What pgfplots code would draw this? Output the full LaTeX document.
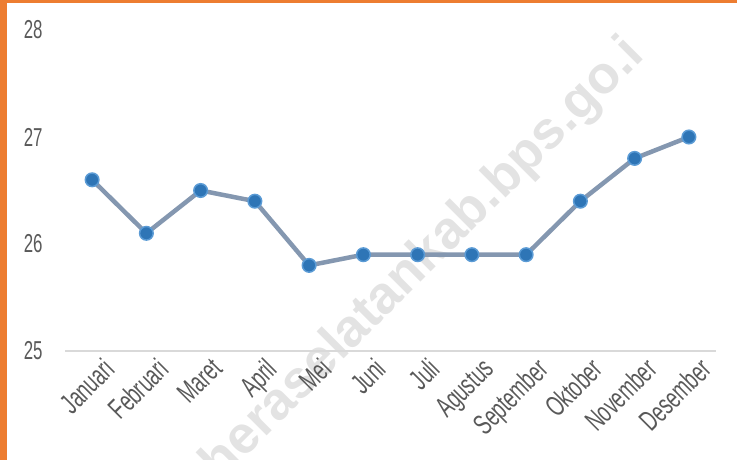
\documentclass[border=0pt]{standalone}
\usepackage{pgfplots}
\pgfplotsset{compat=1.18}
\usepackage{fontspec}
\setmainfont{Liberation Sans}[FakeStretch=0.65]
\newfontfamily\wmfont{Liberation Sans}[FakeStretch=1.0]
\definecolor{borderor}{HTML}{ED7D31}
\definecolor{linec}{HTML}{8497B0}
\definecolor{markf}{HTML}{2E75B6}
\definecolor{markd}{HTML}{5B9BD5}
\definecolor{txt}{HTML}{595959}
\definecolor{wm}{HTML}{E3E3E3}
\definecolor{gridc}{HTML}{D9D9D9}
\begin{document}
\begin{tikzpicture}[x=1bp,y=1bp]
\useasboundingbox (0,0) rectangle (737,460);
\node[rotate=45, text=wm, font=\wmfont\bfseries\fontsize{53}{60}\selectfont, inner sep=0] at (424,200) {heraselatankab.bps.go.i};
\begin{axis}[
  at={(65bp,109bp)}, anchor=south west,
  scale only axis, width=651bp, height=321bp,
  xmin=-0.5, xmax=11.5, ymin=25, ymax=28,
  ytick={25,26,27,28},
  xtick={0,...,11},
  xticklabels={Januari,Februari,Maret,April,Mei,Juni,Juli,Agustus,September,Oktober,November,Desember},
  axis lines*=left,
  y axis line style={draw=none},
  x axis line style={draw=gridc, line width=1.5bp},
  major tick length=0pt,
  /pgf/number format/assume math mode=true,
  ticklabel style={text=txt},
  yticklabel style={anchor=east, xshift=-19bp, font=\fontsize{26}{30}\selectfont},
  xticklabel style={rotate=45, anchor=north east, xshift=6bp, yshift=-7bp, font=\fontsize{29}{32}\selectfont},
  clip=false,
]
\addplot[color=linec, line width=4.5bp, mark=*, mark size=6.8bp,
  mark options={fill=markf, draw=markd, line width=1.5bp}]
  coordinates {(0,26.6) (1,26.1) (2,26.5) (3,26.4) (4,25.8) (5,25.9) (6,25.9) (7,25.9) (8,25.9) (9,26.4) (10,26.8) (11,27.0)};
\end{axis}
\fill[borderor] (0,0) rectangle (7,460);
\fill[borderor] (0,457) rectangle (737,460);
\end{tikzpicture}
\end{document}
